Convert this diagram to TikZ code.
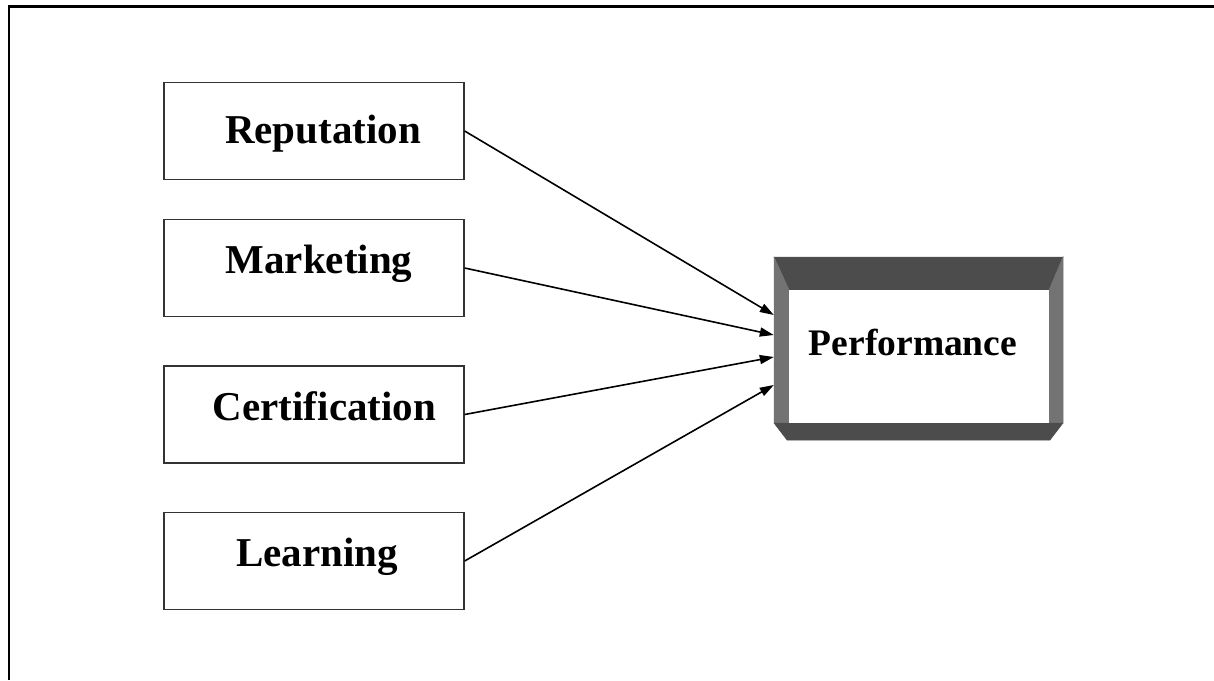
\documentclass[tikz,border=0pt]{standalone}
\usepackage{fontspec}
\setmainfont{Liberation Serif}
\usetikzlibrary{arrows.meta}
\begin{document}
\begin{tikzpicture}[x=1pt,y=-1pt,
  box/.style={draw=black!80, line width=1.3pt, minimum width=300pt, minimum height=97pt, inner sep=0pt, fill=white},
  lbl/.style={anchor=base, inner sep=0pt, font=\bfseries\fontsize{41}{41}\selectfont},
  plbl/.style={anchor=base, inner sep=0pt, font=\bfseries\fontsize{37.5}{37.5}\selectfont},
  conn/.style={line width=1.6pt, -{Triangle[length=14pt,width=9pt]}},
  darkpanel/.style={fill=black!70, draw=black!70, line width=0.5pt},
  sidepanel/.style={fill=black!55, draw=black!55, line width=0.5pt}]
\useasboundingbox (0,0) rectangle (1214,680);
% outer frame (left and top edges)
\draw[line width=2.6pt] (9,680) -- (9,6.5) -- (1214,6.5);
% input boxes
\node[box] (rep) at (314,131) {};
\node[box] (mkt) at (314,268) {};
\node[box] (cert) at (314,414.5) {};
\node[box] (learn) at (314,561) {};
\node[lbl] (repT) at (323,143.3) {Reputation};
\node[lbl] (mktT) at (319,273) {Marketing};
\node[lbl] (certT) at (324.5,420) {Certification};
\node[lbl] (learnT) at (317,566.7) {Learning};
% performance bevelled box
\node[minimum width=289pt, minimum height=166pt, inner sep=0pt] (perf) at (918.5,340) {};
\fill[darkpanel] (774,257) -- (1063,257) -- (1049,290) -- (789,290) -- cycle;
\fill[sidepanel] (774,257) -- (789,290) -- (789,423) -- (774,423) -- cycle;
\fill[sidepanel] (1063,257) -- (1049,290) -- (1049,423) -- (1063,423) -- cycle;
\fill[darkpanel] (774,423) -- (1063,423) -- (1050,440) -- (787,440) -- cycle;
\fill[white] (789,290) rectangle (1049,423);
\node[plbl] (perfT) at (913,355) {Performance};
% connectors
\draw[conn] (rep.east) -- ([yshift=25pt]perf.west);
\draw[conn] (mkt.east) -- ([yshift=5pt]perf.west);
\draw[conn] (cert.east) -- ([yshift=-17pt]perf.west);
\draw[conn] (learn.east) -- ([yshift=-45pt]perf.west);
\end{tikzpicture}
\end{document}
